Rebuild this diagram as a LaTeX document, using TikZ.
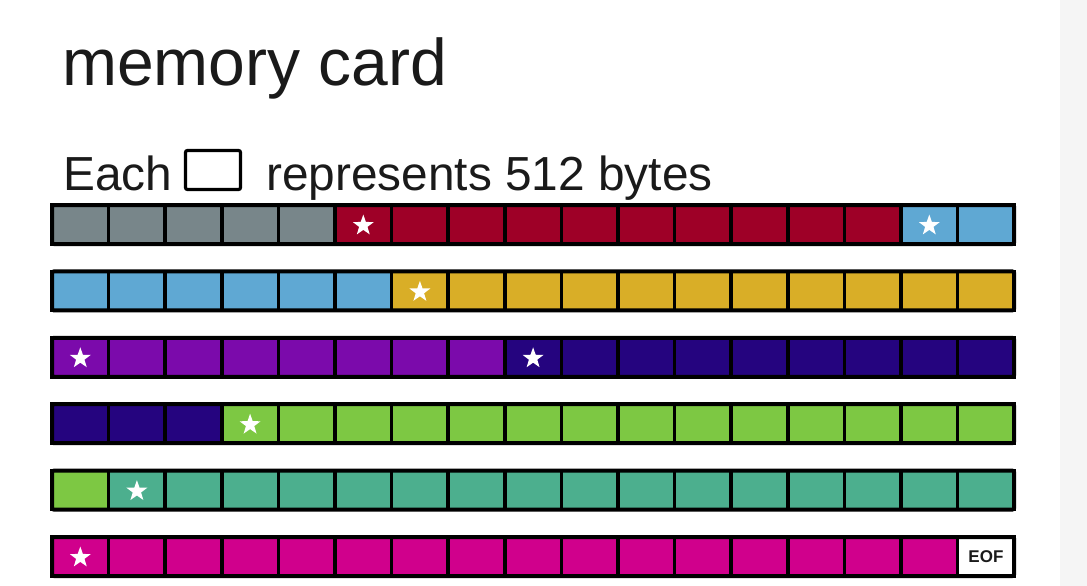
\documentclass[tikz,border=0pt]{standalone}
\usepackage{fontspec}
\setmainfont{Liberation Sans}
\usetikzlibrary{shapes.geometric}
\definecolor{cgray}{HTML}{78868A}
\definecolor{cred}{HTML}{9E0027}
\definecolor{cblue}{HTML}{5FA8D3}
\definecolor{cyellow}{HTML}{D9AE27}
\definecolor{cpurple}{HTML}{7B0AAB}
\definecolor{cdblue}{HTML}{25047F}
\definecolor{cgreen}{HTML}{7DC843}
\definecolor{cteal}{HTML}{4CAF8E}
\definecolor{cmag}{HTML}{D0008C}
\definecolor{cwhite}{HTML}{FFFFFF}
\definecolor{stripgray}{HTML}{F5F5F5}
\definecolor{ink}{HTML}{1A1A1A}
\begin{document}
\begin{tikzpicture}[x=1pt,y=-1pt,
  cell/.style={draw=black, line width=3.5pt, minimum width=56.6pt, minimum height=39pt, inner sep=0pt, outer sep=0pt},
  starmark/.style={star, star points=5, star point ratio=2.5, fill=white, draw=none, minimum size=22pt, inner sep=0pt},
  rowframe/.style={draw=black, line width=4pt, rounded corners=2pt},
  txt/.style={anchor=base west, inner sep=0pt, text=ink}]
\useasboundingbox (0,0) rectangle (1087,586);
\fill[stripgray] (1060,0) rectangle (1087,586);
\node[txt, font=\fontsize{66}{66}\selectfont] (title) at (62,85) {memory card};
\node[txt, font=\fontsize{47.8}{48}\selectfont] (each) at (63,190) {Each};
\node[draw=black, line width=3.2pt, rounded corners=2pt, minimum width=55pt, minimum height=39pt, inner sep=0pt] (keybox) at (213,170) {};
\node[txt, font=\fontsize{47.8}{48}\selectfont] (rep) at (266,190) {represents 512 bytes};
% rows
\foreach \r/\cols in {
  0/{cgray,cgray,cgray,cgray,cgray,cred,cred,cred,cred,cred,cred,cred,cred,cred,cred,cblue,cblue},
  1/{cblue,cblue,cblue,cblue,cblue,cblue,cyellow,cyellow,cyellow,cyellow,cyellow,cyellow,cyellow,cyellow,cyellow,cyellow,cyellow},
  2/{cpurple,cpurple,cpurple,cpurple,cpurple,cpurple,cpurple,cpurple,cdblue,cdblue,cdblue,cdblue,cdblue,cdblue,cdblue,cdblue,cdblue},
  3/{cdblue,cdblue,cdblue,cgreen,cgreen,cgreen,cgreen,cgreen,cgreen,cgreen,cgreen,cgreen,cgreen,cgreen,cgreen,cgreen,cgreen},
  4/{cgreen,cteal,cteal,cteal,cteal,cteal,cteal,cteal,cteal,cteal,cteal,cteal,cteal,cteal,cteal,cteal,cteal},
  5/{cmag,cmag,cmag,cmag,cmag,cmag,cmag,cmag,cmag,cmag,cmag,cmag,cmag,cmag,cmag,cmag,cwhite}} {
  \foreach \c [count=\i from 0] in \cols {
    \node[cell, fill=\c] (c-\r-\i) at ({52+56.6*(\i+0.5)}, {224.5+66.4*\r}) {};
  }
  \draw[rowframe] (c-\r-0.north west) rectangle (c-\r-16.south east);
}
\foreach \r/\i in {0/5,0/15,1/6,2/0,2/8,3/3,4/1,5/0} {
  \node[starmark] (s-\r-\i) at ([yshift=-1pt]c-\r-\i.center) {};
}
\node[font=\bfseries\fontsize{17}{17}\selectfont, text=ink] (eof) at (c-5-16.center) {EOF};
\end{tikzpicture}
\end{document}
